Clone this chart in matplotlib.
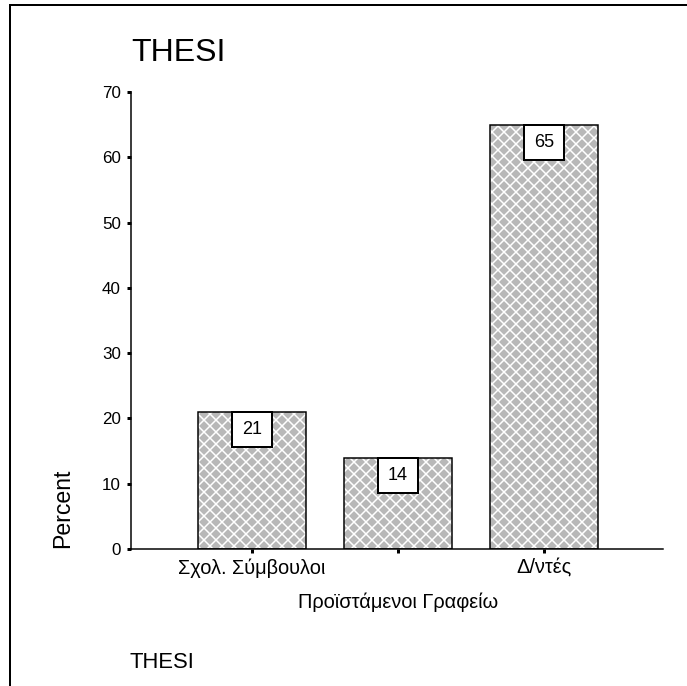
import matplotlib
matplotlib.use("Agg")
import matplotlib.pyplot as plt
from matplotlib.patches import Rectangle
from matplotlib.lines import Line2D

categories = ["Σχολ. Σύμβουλοι", "Προϊστάμενοι Γραφείω", "Δ/ντές"]
percent = [21, 14, 65]
yticks = [0, 10, 20, 30, 40, 50, 60, 70]
title = "THESI"
footer = "THESI"
ylabel = "Percent"

W, H = 687, 686
DPI = 72
plt.rcParams['font.family'] = ['Liberation Sans', 'DejaVu Sans']
plt.rcParams['hatch.linewidth'] = 1.5

fig = plt.figure(figsize=(W / DPI, H / DPI), dpi=DPI)
fig.patch.set_facecolor("white")

def fx(px):
    return px / W

def fy(py):
    return 1 - py / H

ax = fig.add_axes([fx(131), fy(549), fx(663) - fx(131), fy(92) - fy(549)])
x = list(range(len(categories)))

ax.bar(x, percent, width=0.74, color="#b8b8b8", edgecolor="white",
       hatch="xx", linewidth=0, zorder=2)
ax.bar(x, percent, width=0.74, fill=False, edgecolor="black",
       linewidth=1.5, zorder=3)

bw, bh = 0.28, 5.4
for xi, v in zip(x, percent):
    ax.add_patch(Rectangle((xi - bw / 2, v - bh), bw, bh, facecolor="white",
                           edgecolor="black", linewidth=2, zorder=4))
    ax.text(xi, v - bh / 2, str(v), ha="center", va="center", fontsize=18,
            zorder=5)

ax.set_xlim(-0.829, 2.815)
ax.set_ylim(0, 70)
ax.set_yticks(yticks)
ax.set_xticks(x)
ax.set_xticklabels(categories, fontsize=20)
ax.tick_params(axis="y", labelsize=17, length=4, width=3, direction="out", pad=6)
ax.tick_params(axis="x", length=4, width=3, direction="out", pad=5)
ax.xaxis.get_major_ticks()[1].set_pad(40)
for s in ["top", "right"]:
    ax.spines[s].set_visible(False)
for s in ["left", "bottom"]:
    ax.spines[s].set_linewidth(1.5)
ax.set_facecolor("white")

ax.set_ylabel(ylabel, fontsize=23)
ax.yaxis.set_label_coords(-0.107, 0.088)

fig.text(fx(131), fy(61), title, fontsize=32, ha="left", va="baseline")
fig.text(fx(129), fy(668), footer, fontsize=22, ha="left", va="baseline")

fig.add_artist(Line2D([fx(10), fx(10)], [0, fy(5)], color="black", linewidth=2))
fig.add_artist(Line2D([fx(10), fx(686)], [fy(5), fy(5)], color="black", linewidth=2))

fig.savefig("out.png", dpi=DPI, facecolor="white")
